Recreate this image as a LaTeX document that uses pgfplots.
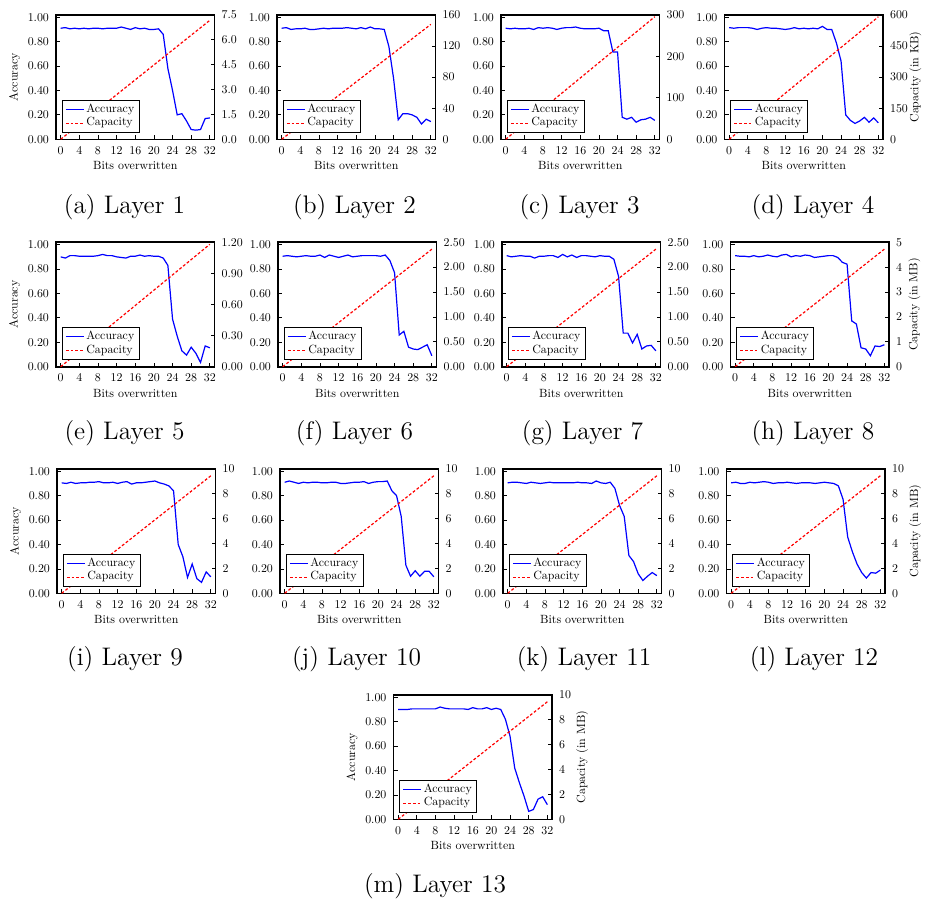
\documentclass[border=0pt]{standalone}
\usepackage{fontspec}
\usepackage{pgfplots}
\usepackage{pgfplotstable}
\pgfplotsset{compat=1.18}
\newfontfamily\lmten{lmroman10-regular.otf}
\newcommand{\tfont}{\lmten\fontsize{5.95}{7}\selectfont}
\newcommand{\cfont}{\fontsize{12.7}{15}\selectfont}
\tikzset{accline/.style={draw=blue, line width=0.6pt},
  capline/.style={draw=red, line width=0.6pt, dash pattern=on 1.4pt off 1pt}}
\pgfplotsset{
  /pgf/number format/assume math mode=true,
  common/.style={scale only axis, width=79.25pt, height=62.25pt, anchor=south west,
    xmin=-1, xmax=33, ymin=0, tick align=inside, major tick length=2pt,
    tick style={line width=0.4pt, black}, axis line style={line width=0.8pt},
    ticklabel style={font=\tfont}, label style={font=\tfont}},
  leftax/.style={common, ymax=1.02, xtick={0,4,...,32}, ytick={0,0.2,0.4,0.6,0.8,1},
    yticklabel style={/pgf/number format/.cd, fixed, fixed zerofill, precision=2},
    xtick pos=bottom, ytick pos=left, xlabel={Bits overwritten},
    xlabel style={at={(axis description cs:0.5,-0.212)}, anchor=center}},
  rightax/.style={common, axis y line*=right, axis x line=none,
    legend style={at={(0.035,0.053)}, anchor=south west, font=\tfont,
      line width=0.6pt, inner xsep=1.5pt, inner ysep=1pt, row sep=0pt,
      nodes={inner xsep=1pt, inner ysep=0.6pt}},
    legend cell align=left},
  lefty/.style={ylabel={Accuracy}, ylabel style={at={(axis description cs:-0.262,0.5)}, anchor=center}},
}
\pgfplotstableread{
x L1 L2 L3 L4 L5 L6 L7 L8 L9 L10 L11 L12 L13
0 0.91 0.91 0.91 0.915 0.90 0.905 0.91 0.91 0.905 0.91 0.905 0.905 0.90
1 0.915 0.915 0.905 0.91 0.89 0.91 0.90 0.905 0.90 0.92 0.91 0.91 0.90
2 0.905 0.90 0.91 0.915 0.91 0.905 0.905 0.905 0.91 0.91 0.91 0.90 0.90
3 0.91 0.905 0.905 0.915 0.91 0.90 0.91 0.90 0.90 0.90 0.905 0.90 0.905
4 0.905 0.905 0.905 0.915 0.905 0.905 0.905 0.91 0.905 0.91 0.90 0.91 0.905
5 0.91 0.91 0.91 0.91 0.905 0.91 0.905 0.90 0.905 0.905 0.91 0.905 0.905
6 0.905 0.90 0.90 0.90 0.905 0.905 0.89 0.905 0.91 0.91 0.905 0.91 0.905
7 0.91 0.90 0.915 0.91 0.905 0.905 0.905 0.915 0.91 0.91 0.90 0.915 0.905
8 0.91 0.905 0.91 0.915 0.91 0.915 0.905 0.905 0.915 0.905 0.905 0.91 0.905
9 0.905 0.91 0.915 0.91 0.92 0.895 0.91 0.90 0.905 0.905 0.91 0.90 0.92
10 0.91 0.905 0.91 0.91 0.91 0.915 0.91 0.915 0.905 0.91 0.905 0.905 0.91
11 0.91 0.91 0.90 0.905 0.91 0.905 0.895 0.92 0.91 0.91 0.905 0.905 0.905
12 0.91 0.91 0.91 0.90 0.90 0.895 0.92 0.90 0.90 0.90 0.905 0.91 0.905
13 0.92 0.91 0.915 0.905 0.895 0.905 0.90 0.91 0.91 0.90 0.905 0.905 0.905
14 0.91 0.915 0.915 0.915 0.89 0.915 0.915 0.905 0.915 0.905 0.905 0.90 0.905
15 0.90 0.91 0.92 0.905 0.905 0.90 0.895 0.915 0.895 0.91 0.91 0.905 0.90
16 0.915 0.905 0.91 0.91 0.905 0.905 0.91 0.91 0.905 0.91 0.905 0.905 0.915
17 0.905 0.915 0.905 0.905 0.915 0.91 0.91 0.895 0.905 0.915 0.905 0.905 0.905
18 0.91 0.905 0.905 0.91 0.905 0.91 0.905 0.90 0.91 0.90 0.90 0.90 0.905
19 0.90 0.92 0.905 0.905 0.91 0.91 0.90 0.905 0.915 0.91 0.92 0.905 0.915
20 0.90 0.905 0.91 0.925 0.905 0.91 0.91 0.91 0.92 0.915 0.905 0.91 0.90
21 0.905 0.905 0.89 0.90 0.905 0.905 0.905 0.91 0.905 0.915 0.90 0.905 0.91
22 0.86 0.90 0.89 0.90 0.89 0.915 0.905 0.895 0.895 0.92 0.91 0.90 0.90
23 0.58 0.76 0.715 0.79 0.83 0.87 0.88 0.855 0.88 0.84 0.86 0.88 0.82
24 0.40 0.50 0.715 0.64 0.39 0.77 0.74 0.84 0.84 0.80 0.72 0.77 0.68
25 0.20 0.16 0.18 0.20 0.25 0.26 0.275 0.375 0.40 0.63 0.63 0.46 0.42
26 0.21 0.21 0.165 0.155 0.13 0.29 0.275 0.35 0.30 0.23 0.31 0.34 0.30
27 0.15 0.21 0.18 0.13 0.095 0.16 0.195 0.155 0.13 0.14 0.26 0.24 0.19
28 0.08 0.20 0.14 0.15 0.16 0.145 0.265 0.145 0.24 0.185 0.16 0.17 0.065
29 0.075 0.18 0.16 0.18 0.11 0.14 0.145 0.09 0.12 0.14 0.105 0.125 0.08
30 0.08 0.125 0.165 0.14 0.035 0.16 0.17 0.17 0.09 0.18 0.14 0.17 0.165
31 0.17 0.165 0.18 0.175 0.17 0.18 0.175 0.165 0.175 0.18 0.17 0.165 0.185
32 0.175 0.145 0.155 0.135 0.155 0.09 0.13 0.18 0.135 0.135 0.145 0.19 0.12
}\acc
% #1 left px, #2 bottom px, #3 column, #4 right ymax, #5 capacity at 32, #6 right opts, #7 left opts
\newcommand{\panel}[7]{%
  \begin{axis}[leftax, at={(#1*0.5pt,-#2*0.5pt)}, #7]
    \addplot[accline] table[x=x,y=#3]{\acc};
  \end{axis}
  \begin{axis}[rightax, at={(#1*0.5pt,-#2*0.5pt)}, ymax=#4, #6]
    \addlegendimage{accline, legend image code/.code={\draw[line width=0.6pt, draw=blue] (0pt,0pt) -- (9pt,0pt);}}
    \addlegendentry{Accuracy}
    \addplot[capline, legend image code/.code={\draw[line width=0.6pt, draw=red, dash pattern=on 1.4pt off 1pt] (0pt,0pt) -- (9pt,0pt);}] coordinates {(0,0) (32,#5)};
    \addlegendentry{Capacity}
  \end{axis}}
\newcommand{\subcap}[3]{\node[font=\cfont, anchor=base] at (#1*0.5pt,-#2*0.5pt) {#3};}
\begin{document}
\begin{tikzpicture}
\path[use as bounding box] (0,0) rectangle (464.5pt,-449.5pt);
% row 1
\panel{56}{139.3}{L1}{7.5}{7.17}{ytick={0,1.5,3,4.5,6,7.5}, yticklabel style={/pgf/number format/.cd,fixed,fixed zerofill,precision=1}}{lefty}
\panel{277}{139.3}{L2}{160}{147.7}{ytick={0,40,80,120,160}}{}
\panel{501}{139.3}{L3}{300}{295.4}{ytick={0,100,200,300}}{}
\panel{724.5}{139.3}{L4}{600}{590.3}{ytick={0,150,300,450,600}, ylabel={Capacity (in KB)}, ylabel style={at={(axis description cs:1.205,0.5)}, anchor=center}}{}
% row 2
\panel{56}{366.7}{L5}{1.2}{1.18}{ytick={0,0.3,0.6,0.9,1.2}, yticklabel style={/pgf/number format/.cd,fixed,fixed zerofill,precision=2}}{lefty}
\panel{278}{366.7}{L6}{2.5}{2.36}{ytick={0,0.5,1,1.5,2,2.5}, yticklabel style={/pgf/number format/.cd,fixed,fixed zerofill,precision=2}}{}
\panel{502}{366.7}{L7}{2.5}{2.36}{ytick={0,0.5,1,1.5,2,2.5}, yticklabel style={/pgf/number format/.cd,fixed,fixed zerofill,precision=2}}{}
\panel{730.5}{366.7}{L8}{5}{4.72}{ytick={0,1,2,3,4,5}, ylabel={Capacity (in MB)}, ylabel style={at={(axis description cs:1.16,0.5)}, anchor=center}}{}
% row 3
\panel{57}{593.3}{L9}{10}{9.44}{ytick={0,2,4,6,8,10}}{lefty}
\panel{280}{593.3}{L10}{10}{9.44}{ytick={0,2,4,6,8,10}}{}
\panel{503}{593.3}{L11}{10}{9.44}{ytick={0,2,4,6,8,10}}{}
\panel{726.5}{593.3}{L12}{10}{9.44}{ytick={0,2,4,6,8,10}, ylabel={Capacity (in MB)}, ylabel style={at={(axis description cs:1.19,0.5)}, anchor=center}}{}
% row 4
\panel{393.5}{819.3}{L13}{10}{9.44}{ytick={0,2,4,6,8,10}, ylabel={Capacity (in MB)}, ylabel style={at={(axis description cs:1.19,0.5)}, anchor=center}}{lefty}
% captions
\subcap{124.5}{213}{(a) Layer 1}
\subcap{354.5}{213}{(b) Layer 2}
\subcap{579.5}{213}{(c) Layer 3}
\subcap{813}{213}{(d) Layer 4}
\subcap{124.5}{439}{(e) Layer 5}
\subcap{354.5}{439}{(f) Layer 6}
\subcap{582.5}{439}{(g) Layer 7}
\subcap{813}{439}{(h) Layer 8}
\subcap{125}{665}{(i) Layer 9}
\subcap{356.5}{665}{(j) Layer 10}
\subcap{584}{665}{(k) Layer 11}
\subcap{814}{665}{(l) Layer 12}
\subcap{435}{892}{(m) Layer 13}
\end{tikzpicture}
\end{document}
